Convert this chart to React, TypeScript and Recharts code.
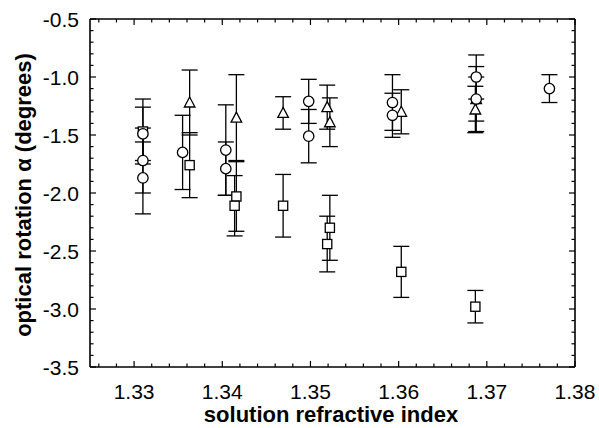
import React from 'react';
import { ScatterChart, Scatter, XAxis, YAxis, ErrorBar, Label } from 'recharts';

const xMajorTicks = [1.33, 1.34, 1.35, 1.36, 1.37, 1.38];
const xMinorTicks = [1.326, 1.328, 1.332, 1.334, 1.336, 1.338, 1.342, 1.344, 1.346, 1.348, 1.352, 1.354, 1.356, 1.358, 1.362, 1.364, 1.366, 1.368, 1.372, 1.374, 1.376, 1.378];
const yMajorTicks = [-3.5, -3.0, -2.5, -2.0, -1.5, -1.0, -0.5];
const yMinorTicks = [-3.4, -3.3, -3.2, -3.1, -2.9, -2.8, -2.7, -2.6, -2.4, -2.3, -2.2, -2.1, -1.9, -1.8, -1.7, -1.6, -1.4, -1.3, -1.2, -1.1, -0.9, -0.8, -0.7, -0.6];

const circleX = [1.331, 1.331, 1.331, 1.3355, 1.3404, 1.3404, 1.3498, 1.3498, 1.3593, 1.3593, 1.3688, 1.3688, 1.3771];
const circleY = [-1.49, -1.72, -1.87, -1.65, -1.63, -1.79, -1.21, -1.51, -1.22, -1.33, -1.0, -1.19, -1.1];
const circleErr = [0.23, 0.28, 0.31, 0.32, 0.39, 0.23, 0.19, 0.23, 0.24, 0.19, 0.19, 0.28, 0.12];

const triangleX = [1.3363, 1.3416, 1.3469, 1.3519, 1.3522, 1.3603, 1.3688, 1.3687];
const triangleY = [-1.22, -1.35, -1.31, -1.26, -1.39, -1.3, -1.19, -1.28];
const triangleErr = [0.28, 0.37, 0.14, 0.19, 0.21, 0.19, 0.19, 0.2];

const squareX = [1.331, 1.3363, 1.3416, 1.3414, 1.3469, 1.3522, 1.3519, 1.3603, 1.3687];
const squareY = [-1.47, -1.76, -2.03, -2.11, -2.11, -2.3, -2.44, -2.68, -2.98];
const squareErr = [0.28, 0.28, 0.3, 0.26, 0.27, 0.28, 0.24, 0.22, 0.14];

const toPoints = (xs: number[], ys: number[], es: number[]) =>
  xs.map((x, i) => ({ x, y: ys[i], err: es[i] }));

const circleData = toPoints(circleX, circleY, circleErr);
const triangleData = toPoints(triangleX, triangleY, triangleErr);
const squareData = toPoints(squareX, squareY, squareErr);

const xAllTicks = [...xMajorTicks, ...xMinorTicks].sort((a, b) => a - b);
const yAllTicks = [...yMajorTicks, ...yMinorTicks].sort((a, b) => a - b);

const FONT = '"Liberation Sans", Arial, Helvetica, sans-serif';
const X_DOMAIN: [number, number] = [1.325, 1.38];
const Y_DOMAIN: [number, number] = [-3.5, -0.5];
const MAJOR_LEN = 6;
const MINOR_LEN = 3.5;

const isIn = (v: number, arr: number[]) => arr.some((a) => Math.abs(a - v) < 1e-9);

const CircleShape = (p: any) => (
  <circle cx={p.cx} cy={p.cy} r={5.2} fill="#fff" stroke="#000" strokeWidth={1.3} />
);
const SquareShape = (p: any) => (
  <rect x={p.cx - 4.6} y={p.cy - 4.6} width={9.2} height={9.2} fill="#fff" stroke="#000" strokeWidth={1.3} />
);
const TriangleShape = (p: any) => (
  <polygon
    points={`${p.cx},${p.cy - 5.5} ${p.cx - 5.3},${p.cy + 4.5} ${p.cx + 5.3},${p.cy + 4.5}`}
    fill="#fff"
    stroke="#000"
    strokeWidth={1.3}
  />
);

const BottomTick = (p: any) => {
  const v = p.payload.value;
  const major = isIn(v, xMajorTicks);
  return (
    <g>
      <line x1={p.x} x2={p.x} y1={p.y} y2={p.y - (major ? MAJOR_LEN : MINOR_LEN)} stroke="#000" strokeWidth={1.2} />
      {major && (
        <text x={p.x} y={p.y + 32} textAnchor="middle" fill="#000" fontSize={21} fontFamily={FONT}>
          {v.toFixed(2)}
        </text>
      )}
    </g>
  );
};
const TopTick = (p: any) => {
  const major = isIn(p.payload.value, xMajorTicks);
  return <line x1={p.x} x2={p.x} y1={p.y} y2={p.y + (major ? MAJOR_LEN : MINOR_LEN)} stroke="#000" strokeWidth={1.2} />;
};
const LeftTick = (p: any) => {
  const v = p.payload.value;
  const major = isIn(v, yMajorTicks);
  return (
    <g>
      <line x1={p.x} x2={p.x + (major ? MAJOR_LEN : MINOR_LEN)} y1={p.y} y2={p.y} stroke="#000" strokeWidth={1.2} />
      {major && (
        <text x={p.x - 11} y={p.y + 7.5} textAnchor="end" fill="#000" fontSize={21} fontFamily={FONT}>
          {v.toFixed(1)}
        </text>
      )}
    </g>
  );
};
const RightTick = (p: any) => {
  const major = isIn(p.payload.value, yMajorTicks);
  return <line x1={p.x} x2={p.x - (major ? MAJOR_LEN : MINOR_LEN)} y1={p.y} y2={p.y} stroke="#000" strokeWidth={1.2} />;
};

const axisLineStyle = { stroke: '#000', strokeWidth: 1.6 };

export default function App() {
  return (
    <div style={{ position: 'absolute', left: 0, top: 0, width: 599, height: 428, background: '#fff' }}>
      <ScatterChart width={599} height={428} margin={{ top: 18, right: 23, bottom: 60, left: 89 }}>
        <XAxis xAxisId={0} type="number" dataKey="x" domain={X_DOMAIN} allowDataOverflow ticks={xAllTicks}
          interval={0} height={1} axisLine={axisLineStyle} tickLine={false} tickSize={0} tickMargin={0}
          tick={BottomTick}>
          <Label content={() => (
            <text x={331} y={422} textAnchor="middle" fill="#000" fontSize={22} fontWeight="bold" fontFamily={FONT}>
              solution refractive index
            </text>
          )} />
        </XAxis>
        <XAxis xAxisId="top" orientation="top" type="number" dataKey="x" domain={X_DOMAIN} allowDataOverflow ticks={xAllTicks}
          interval={0} height={1} axisLine={axisLineStyle} tickLine={false} tickSize={0} tickMargin={0}
          tick={TopTick} />
        <YAxis yAxisId={0} type="number" dataKey="y" domain={Y_DOMAIN} allowDataOverflow ticks={yAllTicks}
          interval={0} width={1} axisLine={axisLineStyle} tickLine={false} tickSize={0} tickMargin={0}
          tick={LeftTick}>
          <Label content={() => (
            <text x={31} y={195} transform="rotate(-90, 31, 195)" textAnchor="middle" fill="#000" fontSize={22}
              fontWeight="bold" fontFamily={FONT}>
              optical rotation α (degrees)
            </text>
          )} />
        </YAxis>
        <YAxis yAxisId="right" orientation="right" type="number" dataKey="y" domain={Y_DOMAIN} allowDataOverflow ticks={yAllTicks}
          interval={0} width={1} axisLine={axisLineStyle} tickLine={false} tickSize={0} tickMargin={0}
          tick={RightTick} />
        <Scatter data={squareData} xAxisId={0} yAxisId={0} shape={SquareShape} isAnimationActive={false}>
          <ErrorBar dataKey="err" direction="y" width={8} stroke="#000" strokeWidth={1.3} isAnimationActive={false} />
        </Scatter>
        <Scatter data={triangleData} xAxisId={0} yAxisId={0} shape={TriangleShape} isAnimationActive={false}>
          <ErrorBar dataKey="err" direction="y" width={8} stroke="#000" strokeWidth={1.3} isAnimationActive={false} />
        </Scatter>
        <Scatter data={circleData} xAxisId={0} yAxisId={0} shape={CircleShape} isAnimationActive={false}>
          <ErrorBar dataKey="err" direction="y" width={8} stroke="#000" strokeWidth={1.3} isAnimationActive={false} />
        </Scatter>
      </ScatterChart>
    </div>
  );
}
